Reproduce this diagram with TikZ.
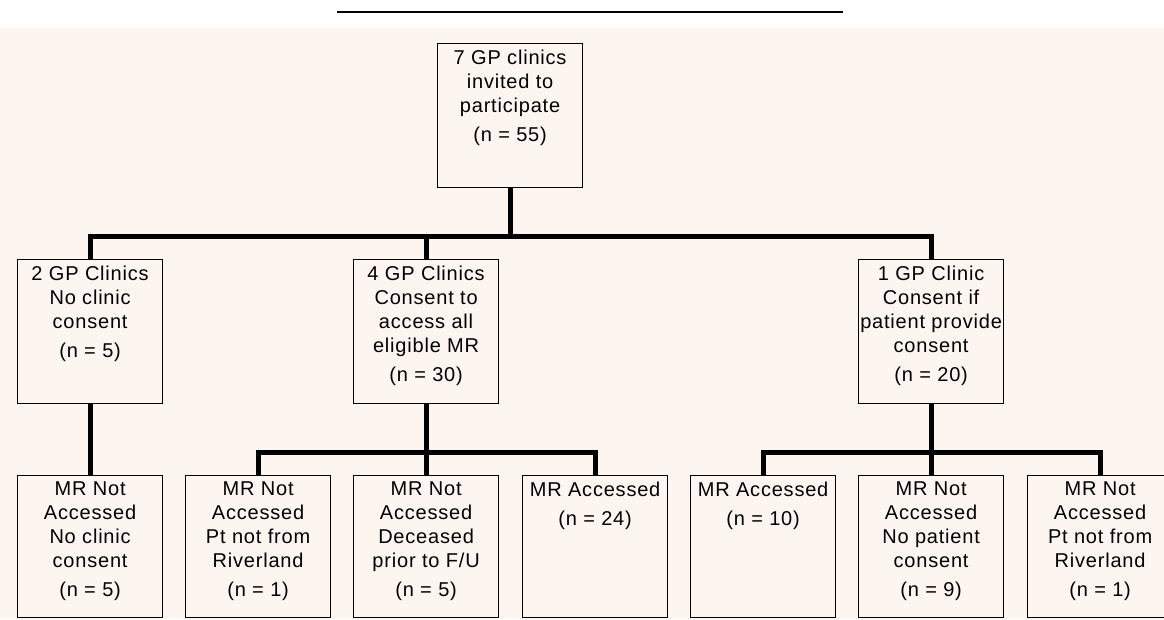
\documentclass[tikz,border=0pt]{standalone}
\usepackage{fontspec}
\setmainfont{Liberation Sans}[LetterSpace=4]
\definecolor{bgc}{RGB}{253,245,239}
\begin{document}
\begin{tikzpicture}[x=1pt,y=-1pt,
  box/.style={draw=black,line width=1.2pt,minimum width=145pt,inner sep=0pt,anchor=north west},
  topbox/.style={box,minimum height=144pt},
  botbox/.style={box,minimum height=142pt},
  txt/.style={anchor=north,inner sep=0pt,align=center,font=\fontsize{20}{24}\selectfont},
  conn/.style={line width=5pt,line join=miter,line cap=butt}]
\useasboundingbox (0,0) rectangle (1164,619);
\fill[bgc] (0,28) rectangle (1164,619);
\coordinate (rulel) at (337,12);
\coordinate (ruler) at (843,12);
\draw[line width=2pt] (rulel) -- (ruler);
% boxes
\node[topbox] (main) at (437,43) {};
\node[topbox] (t1) at (17,259) {};
\node[topbox] (t2) at (353,259) {};
\node[topbox] (t3) at (858,259) {};
\node[botbox] (b1) at (17,475) {};
\node[botbox] (b2) at (185,475) {};
\node[botbox] (b3) at (353,475) {};
\node[botbox] (b4) at (522,475) {};
\node[botbox] (b5) at (690,475) {};
\node[botbox] (b6) at (858,475) {};
\node[botbox] (b7) at (1027,475) {};
% texts
\node[txt] (maintx) at ([yshift=-7pt]main.north) {7 GP clinics\\invited to\\participate\\[5pt](n = 55)};
\node[txt] (t1tx) at ([yshift=-7pt]t1.north) {2 GP Clinics\\No clinic\\consent\\[5pt](n = 5)};
\node[txt] (t2tx) at ([yshift=-7pt]t2.north) {4 GP Clinics\\Consent to\\access all\\eligible MR\\[5pt](n = 30)};
\node[txt] (t3tx) at ([yshift=-7pt]t3.north) {1 GP Clinic\\Consent if\\patient provide\\consent\\[5pt](n = 20)};
\node[txt] (b1tx) at ([yshift=-7pt]b1.north) {MR Not\\Accessed\\No clinic\\consent\\[5pt](n = 5)};
\node[txt] (b2tx) at ([yshift=-7pt]b2.north) {MR Not\\Accessed\\Pt not from\\Riverland\\[5pt](n = 1)};
\node[txt] (b3tx) at ([yshift=-7pt]b3.north) {MR Not\\Accessed\\Deceased\\prior to F/U\\[5pt](n = 5)};
\node[txt] (b4tx) at ([yshift=-7pt]b4.north) {MR Accessed\\[5pt](n = 24)};
\node[txt] (b5tx) at ([yshift=-7pt]b5.north) {MR Accessed\\[5pt](n = 10)};
\node[txt] (b6tx) at ([yshift=-7pt]b6.north) {MR Not\\Accessed\\No patient\\consent\\[5pt](n = 9)};
\node[txt] (b7tx) at ([yshift=-7pt]b7.north) {MR Not\\Accessed\\Pt not from\\Riverland\\[5pt](n = 1)};
% connectors
\coordinate (topbus) at (0,236);
\coordinate (subbus) at (0,452);
\draw[conn] (main.south) -- (main.south |- topbus);
\draw[conn] (t1.north) -- (t1.north |- topbus) -| (t3.north);
\draw[conn] (t2.north) -- (t2.north |- topbus);
\draw[conn] (t1.south) -- (b1.north);
\draw[conn] (t2.south) -- (b3.north);
\draw[conn] (b2.north) -- (b2.north |- subbus) -| (b4.north);
\draw[conn] (t3.south) -- (b6.north);
\draw[conn] (b5.north) -- (b5.north |- subbus) -| (b7.north);
\end{tikzpicture}
\end{document}
